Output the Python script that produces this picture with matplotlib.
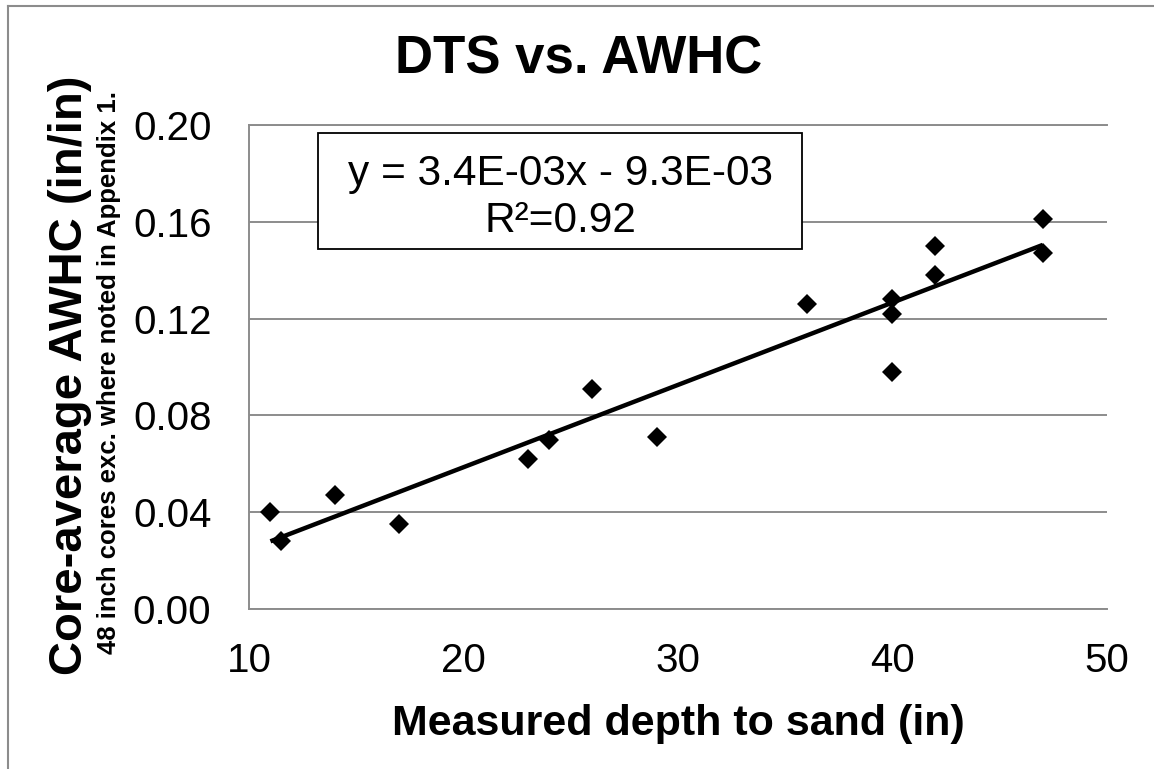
import matplotlib
matplotlib.use('Agg')
import matplotlib.pyplot as plt
import numpy as np
from matplotlib.lines import Line2D
from matplotlib.patches import Rectangle

plt.rcParams['font.family'] = ['Liberation Sans', 'DejaVu Sans']

# ---- data ----
depth_in = [11, 11.5, 14, 17, 23, 24, 26, 29, 36, 40, 40, 40, 42, 42, 47, 47]
awhc = [0.040, 0.028, 0.047, 0.035, 0.062, 0.070, 0.091, 0.071,
        0.126, 0.128, 0.122, 0.098, 0.150, 0.138, 0.161, 0.147]
x_ticks = [10, 20, 30, 40, 50]
y_ticks = [0.00, 0.04, 0.08, 0.12, 0.16, 0.20]
y_tick_labels = ['0.00', '0.04', '0.08', '0.12', '0.16', '0.20']
title = 'DTS vs. AWHC'
x_label = 'Measured depth to sand (in)'
y_label = 'Core-average AWHC (in/in)'
y_sublabel = '48 inch cores exc. where noted in Appendix 1.'
eq_text = 'y = 3.4E-03x - 9.3E-03'
r2_text = 'R\u00b2=0.92'

W, H = 1154, 769
fig = plt.figure(figsize=(W / 100, H / 100), dpi=100)

def fx(px):
    return px / W

def fy(py):
    return 1 - py / H

grid_c = '#8c8c8c'
ax = fig.add_axes([fx(249), fy(609), fx(1107) - fx(249), fy(125) - fy(609)])
ax.set_xlim(10, 50)
ax.set_ylim(0, 0.20)
ax.set_xticks(x_ticks)
ax.set_xticklabels([str(t) for t in x_ticks])
ax.set_yticks(y_ticks)
ax.set_yticklabels(y_tick_labels)
ax.tick_params(axis='both', length=0, labelsize=29, colors='black')
ax.tick_params(axis='y', pad=27)
ax.tick_params(axis='x', pad=24)
ax.yaxis.grid(True, color=grid_c, lw=1.4)
ax.set_axisbelow(True)
for s in ['right']:
    ax.spines[s].set_visible(False)
for s in ['left', 'bottom', 'top']:
    ax.spines[s].set_color(grid_c)
    ax.spines[s].set_linewidth(1.4)

# scatter
ax.plot(depth_in, awhc, linestyle='none', marker='D', markersize=10.5,
        color='black', markeredgewidth=0, zorder=3)

# linear trendline
xa = np.array(depth_in, dtype=float)
ya = np.array(awhc, dtype=float)
slope, intercept = np.polyfit(xa, ya, 1)
xl = np.array([xa.min(), xa.max()])
ax.plot(xl, slope * xl + intercept, color='black', lw=3.2, zorder=4,
        solid_capstyle='butt')

# equation box
fig.add_artist(Rectangle((fx(318), fy(249)), fx(802) - fx(318), fy(133) - fy(249),
                         transform=fig.transFigure, facecolor='white',
                         edgecolor='black', lw=1.3, zorder=5))
fig.text(fx(560), fy(185), eq_text, ha='center', va='baseline', fontsize=30.5, zorder=6)
fig.text(fx(560), fy(232), r2_text, ha='center', va='baseline', fontsize=30.5, zorder=6)

# title & labels
fig.text(fx(579), fy(74), title, ha='center', va='baseline', fontsize=38,
         fontweight='bold')
fig.text(fx(678), fy(735), x_label, ha='center', va='baseline', fontsize=31,
         fontweight='bold')
fig.text(fx(70), fy(375), y_label, ha='center', va='center', rotation=90,
         fontsize=34, fontweight='bold')
fig.text(fx(109), fy(372), y_sublabel, ha='center', va='center', rotation=90,
         fontsize=18.5, fontweight='bold')

# outer chart frame (partially visible)
fig.add_artist(Line2D([fx(8), fx(8)], [fy(5.5), fy(800)], transform=fig.transFigure,
                      color=grid_c, lw=1.5))
fig.add_artist(Line2D([fx(8), fx(1200)], [fy(5.5), fy(5.5)], transform=fig.transFigure,
                      color=grid_c, lw=1.5))

fig.savefig('out.png', dpi=100, facecolor='white')
